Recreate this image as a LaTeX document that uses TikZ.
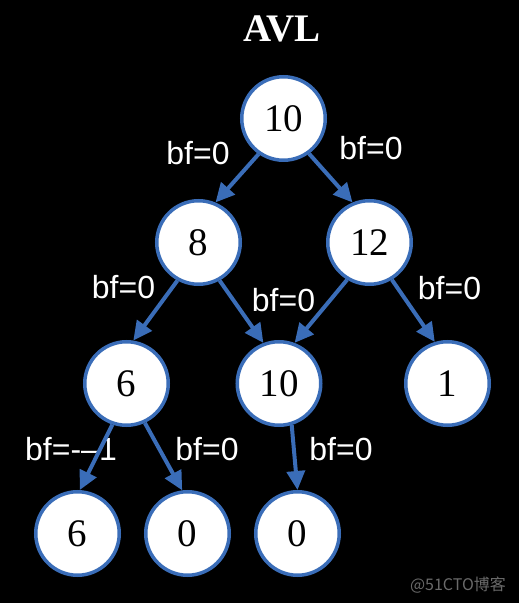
\documentclass[tikz,border=0pt]{standalone}
\usepackage{fontspec}
\setmainfont{Liberation Serif}
\setsansfont{Liberation Sans}
\newfontfamily\cjkfont{Noto Sans CJK SC}
\usetikzlibrary{arrows.meta}
\definecolor{treeblue}{HTML}{3A6DB8}
\definecolor{markgray}{HTML}{6A6A6A}

\begin{document}
\begin{tikzpicture}[x=1pt,y=1pt]
      \tikzset{tree node/.style={circle,
          draw=treeblue,
          line width=3.5pt,
          fill=white,
          minimum size=83.5pt,
          inner sep=0pt,
          font=\fontsize{39}{41}\selectfont},
        bf label/.style={text=white,
          font=\sffamily\fontsize{32}{34}\selectfont},
        tree edge/.style={draw=treeblue,
          line width=4pt,
          -{Triangle[length=19pt,width=18pt]}}
      }
      \fill [black] (0,0) rectangle (519,603);
      \node [text=white,font=\bfseries\fontsize{39}{41}\selectfont] (title) at (282,574.5) {AVL};

      \node [tree node] (R) at (283.5,484.5) {10};
      \node [tree node] (A) at (198.5,360.5) {8};
      \node [tree node] (B) at (369.5,360.5) {12};
      \node [tree node] (C) at (126.5,219.5) {6};
      \node [tree node] (D) at (279,219.5) {10};
      \node [tree node] (E) at (447.5,219.5) {1};
      \node [tree node] (F) at (77.5,69.5) {6};
      \node [tree node] (G) at (187.5,69.5) {0};
      \node [tree node] (H) at (297.5,69.5) {0};

      \node [bf label] (RA) at (198,450) {bf=0};
      \node [bf label] (RB) at (371,455) {bf=0};
      \node [bf label] (AC) at (123.5,316) {bf=0};
      \node [bf label] (AD) at (283.5,303) {bf=0};
      \node [bf label] (BE) at (449.5,315) {bf=0};
      \node [bf label] (CF) at (71,154) {bf=-–1};
      \node [bf label] (CG) at (207,154) {bf=0};
      \node [bf label] (DH) at (341,154) {bf=0};

      \draw [tree edge] (R.-125)--(A.67);
      \draw [tree edge] (R.-54)--(B.113);
      \draw [tree edge] (A.-119)--(C.81);
      \draw [tree edge] (A.-61)--(D.111);
      \draw [tree edge] (B.-121)--(D.69);
      \draw [tree edge] (B.-59)--(E.107);
      \draw [tree edge] (C.-109)--(F.87);
      \draw [tree edge] (C.-65)--(G.97);
      \draw [tree edge] (D.-73)--(H.90);

      \node [text=markgray,font=\cjkfont\fontsize{16}{18}\selectfont] (mark) at (458,18) {@51CTO博客};
    \end{tikzpicture}
\end{document}
